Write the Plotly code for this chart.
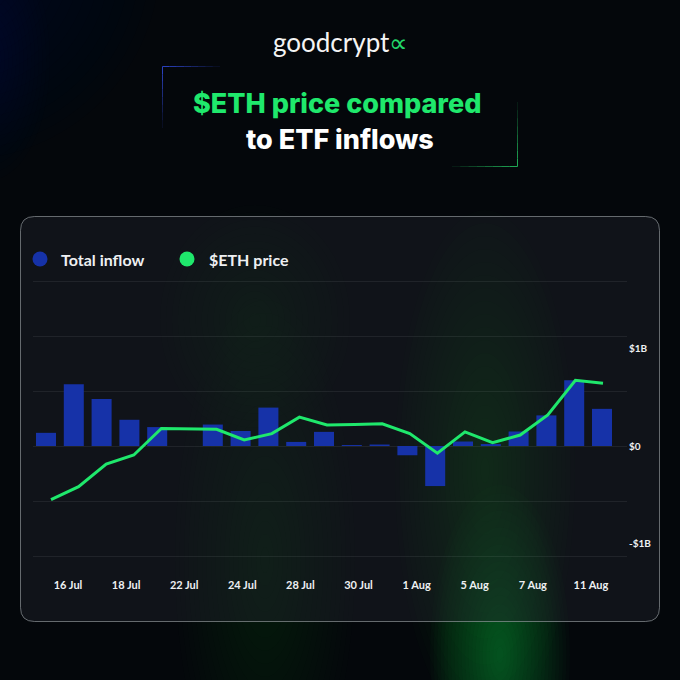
import plotly.graph_objects as go

# ---------------- data ----------------
trade_dates = ["2025-07-14", "2025-07-15", "2025-07-16", "2025-07-17", "2025-07-18",
               "2025-07-21", "2025-07-22", "2025-07-23", "2025-07-24", "2025-07-25",
               "2025-07-28", "2025-07-29", "2025-07-30", "2025-07-31", "2025-08-01",
               "2025-08-04", "2025-08-05", "2025-08-06", "2025-08-07", "2025-08-08",
               "2025-08-11"]
total_inflow_musd = [135, 634, 482, 269, 194, 0, 220, 154, 394, 42,
                     145, 10, 15, -95, -411, 46, 20, 149, 314, 674, 381]
eth_price_usd = [3005, 3143, 3385, 3481, 3764, 3761, 3755, 3641, 3709, 3885,
                 3801, 3807, 3815, 3709, 3500, 3728, 3612, 3694, 3908, 4279, 4247]
tick_labels = ["16 Jul", "18 Jul", "22 Jul", "24 Jul", "28 Jul",
               "30 Jul", "1 Aug", "5 Aug", "7 Aug", "11 Aug"]
y_tick_vals = [-1000, 0, 1000]
y_tick_text = ["-$1B", "$0", "$1B"]
series_names = ["Total inflow", "$ETH price"]

# ---------------- style ----------------
W, H = 680, 680
ML, MR, MT, MB = 33, 53, 276, 119
PW, PH = W - ML - MR, H - MT - MB
BG = "#04070b"
BLUE = "#1632a8"
GREEN = "#1fe86c"
WHITE = "#eef0f2"
FONT = "Lato"
TFONT = "Inter"


def xp(px):
    return (px - ML) / PW


def yp(py):
    return (H - MB - py) / PH


shapes = []


def glow(cx, cy, rx, ry, color, n, alpha):
    for k in range(n):
        s = 1 - k / n
        shapes.append(dict(type="circle", xref="paper", yref="paper",
                           x0=xp(cx - rx * s), x1=xp(cx + rx * s),
                           y0=yp(cy + ry * s), y1=yp(cy - ry * s),
                           fillcolor=color, opacity=alpha, line=dict(width=0),
                           layer="below"))


# background glows
glow(-40, -40, 200, 200, "#0d3550", 20, 0.025)
glow(-10, 60, 60, 120, "#0f4a5a", 16, 0.02)
glow(265, 560, 90, 260, "#1c7a45", 20, 0.02)
glow(255, 320, 95, 115, "#1b5a4a", 16, 0.018)
glow(485, 470, 90, 260, "#1a8a3a", 20, 0.02)
glow(500, 655, 70, 170, "#1fb040", 20, 0.026)

# card
cx0, cx1, cy0, cy1, rad = 20.5, 659.5, 216.5, 621.5, 14
rx, ry = rad / PW, rad / PH
X0, X1, Y0, Y1 = xp(cx0), xp(cx1), yp(cy1), yp(cy0)
card_path = (f"M {X0+rx},{Y0} L {X1-rx},{Y0} Q {X1},{Y0} {X1},{Y0+ry} "
             f"L {X1},{Y1-ry} Q {X1},{Y1} {X1-rx},{Y1} L {X0+rx},{Y1} "
             f"Q {X0},{Y1} {X0},{Y1-ry} L {X0},{Y0+ry} Q {X0},{Y0} {X0+rx},{Y0} Z")
shapes.append(dict(type="path", xref="paper", yref="paper", path=card_path,
                   fillcolor="rgba(32,36,42,0.45)",
                   line=dict(color="rgba(150,156,162,0.65)", width=1), layer="below"))


# title frame corners (fading)
def fade_line(xa, ya, xb, yb, color, n=8):
    for k in range(n):
        t0, t1 = k / n, (k + 1) / n
        shapes.append(dict(type="line", xref="paper", yref="paper",
                           x0=xp(xa + (xb - xa) * t0), y0=yp(ya + (yb - ya) * t0),
                           x1=xp(xa + (xb - xa) * t1), y1=yp(ya + (yb - ya) * t1),
                           line=dict(color=color, width=1), opacity=0.9 * (1 - k / n),
                           layer="below"))


fade_line(162.5, 66.5, 220, 66.5, "#2f47d0")
fade_line(162.5, 66.5, 162.5, 128, "#2f47d0")
fade_line(517.5, 166.5, 452, 166.5, "#22b85c")
fade_line(517.5, 166.5, 517.5, 102, "#22b85c")

# legend circles
for cxl, col in [(40, BLUE), (187, GREEN)]:
    shapes.append(dict(type="circle", xref="paper", yref="paper",
                       x0=xp(cxl - 7.5), x1=xp(cxl + 7.5), y0=yp(259 + 7.5), y1=yp(259 - 7.5),
                       fillcolor=col, line=dict(width=0)))

annotations = [
    dict(text="goodcrypt<span style='color:#22d86a'>∝</span>", x=xp(340), y=yp(42),
         xref="paper", yref="paper", showarrow=False, xanchor="center", yanchor="middle",
         font=dict(family=FONT, size=26, color="#f4f4f4")),
    dict(text="$ETH price compared", x=xp(337), y=yp(104),
         xref="paper", yref="paper", showarrow=False, xanchor="center", yanchor="middle",
         font=dict(family=TFONT, size=27, color=GREEN, weight=800)),
    dict(text="to ETF inflows", x=xp(340), y=yp(139),
         xref="paper", yref="paper", showarrow=False, xanchor="center", yanchor="middle",
         font=dict(family=TFONT, size=27, color="#ffffff", weight=800)),
    dict(text=f"<b>{series_names[0]}</b>", x=xp(59), y=yp(259),
         xref="paper", yref="paper", showarrow=False, xanchor="left", yanchor="middle",
         font=dict(family=FONT, size=16, color=WHITE)),
    dict(text=f"<b>{series_names[1]}</b>", x=xp(207), y=yp(259),
         xref="paper", yref="paper", showarrow=False, xanchor="left", yanchor="middle",
         font=dict(family=FONT, size=16, color=WHITE)),
]

fig = go.Figure()
fig.add_trace(go.Bar(x=trade_dates, y=total_inflow_musd, name=series_names[0],
                     marker=dict(color=BLUE, line=dict(width=0)),
                     showlegend=False, hoverinfo="skip"))
fig.add_trace(go.Scatter(x=trade_dates, y=eth_price_usd, name=series_names[1],
                         mode="lines", line=dict(color=GREEN, width=3),
                         xaxis="x3", yaxis="y2", showlegend=False, hoverinfo="skip"))
fig.add_trace(go.Scatter(x=tick_labels, y=[None] * len(tick_labels), xaxis="x2",
                         mode="markers", showlegend=False, hoverinfo="skip"))

# pixel -> data helpers for axis ranges
x_px0, x_px1 = ML, W - MR
y_px0, y_px1 = MT, H - MB
grid_step = 55 * 1000 / 97.5
fig.update_layout(
    width=W, height=H,
    margin=dict(l=ML, r=MR, t=MT, b=MB, pad=0),
    paper_bgcolor=BG, plot_bgcolor="rgba(0,0,0,0)",
    bargap=0.28,
    shapes=shapes, annotations=annotations,
    font=dict(family=FONT, color=WHITE),
    xaxis=dict(type="category", range=[(x_px0 - 46) / 27.8, (x_px1 - 46) / 27.8],
               showticklabels=False, showgrid=False, zeroline=False, showline=False,
               ticks=""),
    xaxis2=dict(type="category", overlaying="x", anchor="y", side="bottom",
                range=[(x_px0 - 68) / 58.1, (x_px1 - 68) / 58.1],
                showgrid=False, zeroline=False, showline=False,
                ticks="", ticklabelstandoff=16,
                tickfont=dict(family=FONT, size=11, color=WHITE, weight="bold")),
    xaxis3=dict(type="category", overlaying="x", anchor="y2",
                range=[(x_px0 - 51) / 27.6, (x_px1 - 51) / 27.6], visible=False),
    yaxis=dict(range=[(446 - y_px1) * 1000 / 97.5, (446 - y_px0) * 1000 / 97.5],
               side="right", tickvals=y_tick_vals, ticktext=y_tick_text,
               showgrid=False, zeroline=False, showline=False, ticks="",
               ticklabelstandoff=1,
               tickfont=dict(family=FONT, size=10, color=WHITE, weight="bold"),
               minor=dict(tick0=0, dtick=grid_step, showgrid=True,
                          gridcolor="rgba(255,255,255,0.07)", gridwidth=1, ticks="")),
    yaxis2=dict(range=[3577 + (446 - y_px1) * 10.684, 3577 + (446 - y_px0) * 10.684],
                overlaying="y", anchor="x3", visible=False),
)

fig.write_html("out.html", config={"displayModeBar": False, "staticPlot": True},
               post_script="document.body.style.margin='0px';"
                           "document.body.style.overflow='hidden';"
                           "document.body.style.background='#04070b';")
